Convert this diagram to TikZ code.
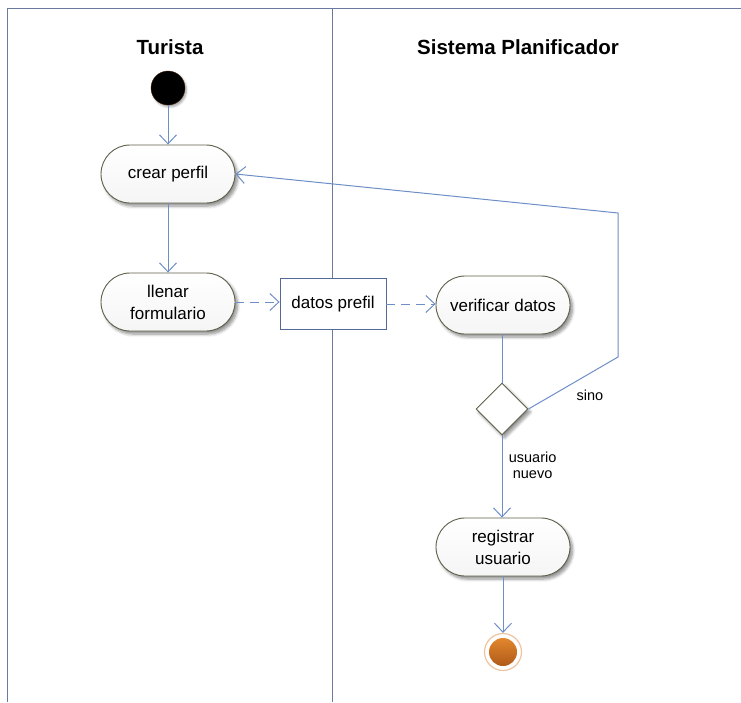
\documentclass[tikz,border=0pt]{standalone}
\usepackage{fontspec}
\setmainfont{Liberation Sans}
\usetikzlibrary{arrows.meta,shapes.geometric,shadows.blur}

\definecolor{laneline}{RGB}{105,122,160}
\definecolor{flow}{RGB}{110,142,200}
\definecolor{actborder}{RGB}{95,95,75}
\definecolor{objborder}{RGB}{85,105,150}
\definecolor{startedge}{RGB}{60,30,10}
\definecolor{finalring}{RGB}{238,196,160}
\definecolor{finaltop}{RGB}{226,135,45}
\definecolor{finalbot}{RGB}{175,90,25}

\tikzset{
  lane/.style={draw=laneline, line width=1pt},
  title/.style={font=\bfseries\fontsize{20.5}{24}\selectfont},
  softshadow/.style={blur shadow={shadow xshift=2.5pt, shadow yshift=-3pt,
      shadow blur radius=3pt, shadow blur steps=6, shadow opacity=45}},
  action/.style={draw=actborder, line width=0.9pt, rectangle, rounded corners=29pt,
      minimum width=134pt, minimum height=58pt, inner sep=0pt,
      top color=white, bottom color=black!4, softshadow, align=center,
      font=\fontsize{17}{22}\selectfont},
  objectbox/.style={draw=objborder, line width=0.9pt, fill=white, rectangle,
      minimum width=106pt, minimum height=51pt, inner sep=0pt,
      font=\fontsize{17}{22}\selectfont},
  decision/.style={draw=actborder, line width=0.9pt, diamond, fill=white,
      minimum width=52pt, minimum height=52pt, inner sep=0pt, softshadow},
  initial/.style={circle, fill=black, draw=startedge, minimum size=34pt, inner sep=0pt,
      blur shadow={shadow xshift=1.5pt, shadow yshift=-2pt, shadow blur radius=2pt, shadow opacity=35}},
  finalring/.style={circle, draw=finalring, line width=1.2pt, fill=white,
      minimum size=37pt, inner sep=0pt},
  finalcore/.style={circle, top color=finaltop, bottom color=finalbot,
      minimum size=28pt, inner sep=0pt},
  flowarrow/.style={draw=flow, line width=1pt,
      -{Straight Barb[length=9pt, width=17pt, line width=1pt]}},
  objflow/.style={flowarrow, dash pattern=on 9pt off 6pt},
  plainflow/.style={draw=flow, line width=1pt},
  guard/.style={font=\fontsize{14.5}{16}\selectfont, align=center}
}

\begin{document}
\begin{tikzpicture}[x=1pt, y=-1pt]
  \useasboundingbox (0,0) rectangle (741,702);

  % swimlane frame
  \coordinate (tl) at (7.5,8);
  \coordinate (tr) at (741,8);
  \coordinate (bl) at (7.5,702);
  \coordinate (dt) at (332,8);
  \coordinate (db) at (332,702);
  \draw[lane] (bl) -- (tl) -- (tr);
  \draw[lane] (dt) -- (db);

  \node[title] (lane1) at (170,47) {Turista};
  \node[title] (lane2) at (518,47) {Sistema Planificador};

  % activity nodes
  \node[initial] (start) at (168,88) {};
  \node[action] (crear) at (168,174) {crear perfil};
  \node[action] (llenar) at (168,302) {llenar\\formulario};
  \node[objectbox] (datos) at (333,304) {datos prefil};
  \node[action] (verificar) at (503,305) {verificar datos};
  \node[decision] (dec) at (502,409) {};
  \node[action] (registrar) at (503,547) {registrar\\usuario};
  \node[finalring] (fin) at (503,652) {};
  \node[finalcore] (fincore) at (fin) {};

  \coordinate (loopA) at (618,357);
  \coordinate (loopB) at (618,213);

  % control and object flows
  \draw[flowarrow] (start) -- (crear);
  \draw[flowarrow] (crear) -- (llenar);
  \draw[objflow] (llenar.east) -- (llenar.east -| datos.west);
  \draw[objflow] (datos.east) -- (datos.east -| verificar.west);
  \draw[plainflow] (verificar.south -| dec.north) -- (dec.north);
  \draw[flowarrow] (dec.south) -- (dec.south |- registrar.north)
      node[guard, pos=0.36, right=3pt] (g1) {usuario\\nuevo};
  \draw[flowarrow] (registrar.south -| fin.north) -- (fin.north);
  \draw[flowarrow] (dec.east) -- (loopA) -- (loopB) -- (crear.east);
  \node[guard] (g2) at (590,395) {sino};
\end{tikzpicture}
\end{document}
